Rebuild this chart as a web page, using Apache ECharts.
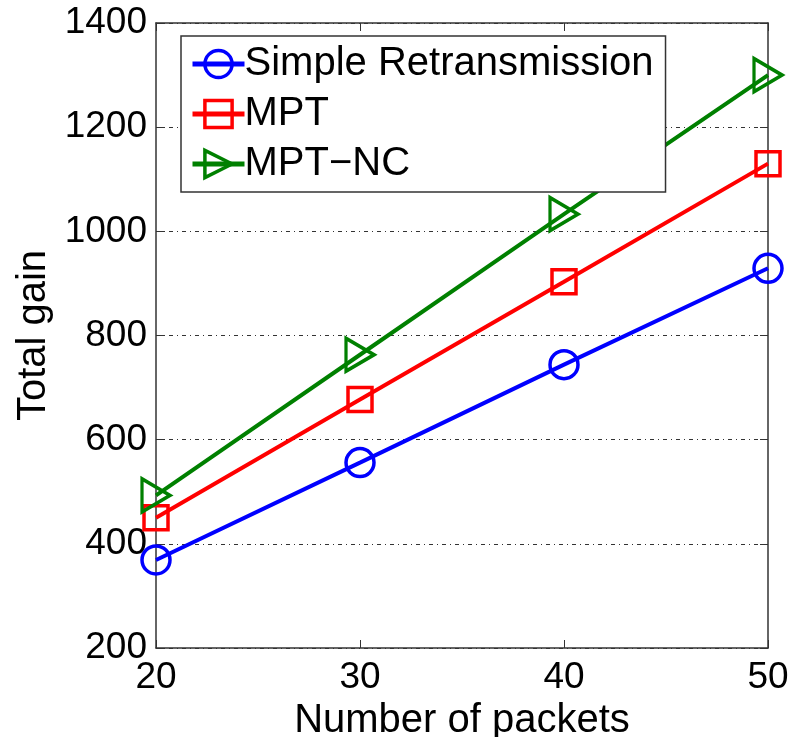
<!DOCTYPE html>
<html>
<head>
<meta charset="utf-8">
<script src="https://cdn.jsdelivr.net/npm/echarts@6/dist/echarts.min.js"></script>
<style>html,body{margin:0;padding:0;background:#fff}#c{width:792px;height:737px}</style>
</head>
<body>
<div id="c"></div>
<script>
const packets = [20, 30, 40, 50];
const simpleRetx = [369, 556, 744, 929];
const mpt = [450, 677, 903, 1130];
const mptNc = [493, 763, 1033, 1300];
const seriesNames = ['Simple Retransmission', 'MPT', 'MPT\u2212NC'];
const xTicks = [20, 30, 40, 50];
const yTicks = [200, 400, 600, 800, 1000, 1200, 1400];

const FONT = 'Liberation Sans';
const chart = echarts.init(document.getElementById('c'), null, {renderer: 'canvas'});
const pairs = v => packets.map((p, i) => [p, v[i]]);

function mk(name, data, color, symbol, size, rotate) {
  return {
    name, type: 'line', data: pairs(data),
    symbol, symbolSize: size, symbolRotate: rotate || 0,
    lineStyle: {color, width: 4},
    itemStyle: {color: 'rgba(0,0,0,0)', borderColor: color, borderWidth: 3.5},
    emphasis: {disabled: true},
    z: 3, animation: false
  };
}

chart.setOption({
  animation: false,
  backgroundColor: '#fff',
  grid: {left: 156, right: 24, top: 23, bottom: 89, containLabel: false, outerBoundsMode: 'none'},
  legend: {
    orient: 'vertical', left: 181, top: 36,
    padding: [8, 12, 8, 9], itemGap: 10,
    backgroundColor: '#fff', borderColor: '#333', borderWidth: 1.5,
    itemWidth: 52, itemHeight: 34,
    lineStyle: {width: 5},
    itemStyle: {borderWidth: 3.5},
    textStyle: {fontFamily: FONT, fontSize: 40, color: '#000', padding: [0, 0, 0, -5], lineHeight: 40},
    data: seriesNames
  },
  xAxis: [{
    type: 'value', min: xTicks[0], max: xTicks[xTicks.length - 1], interval: 10,
    name: 'Number of packets', nameLocation: 'middle', nameGap: 46,
    nameTextStyle: {fontFamily: FONT, fontSize: 40, color: '#000'},
    axisLine: {show: true, lineStyle: {color: '#333', width: 1.5}},
    axisTick: {show: true, inside: true, length: 8, lineStyle: {color: '#333'}},
    axisLabel: {fontFamily: FONT, fontSize: 37, color: '#000', margin: 11, formatter: v => String(v)},
    splitLine: {show: false}
  }, {
    type: 'value', position: 'top', min: 20, max: 50, interval: 10,
    axisLine: {show: true, lineStyle: {color: '#333', width: 1.5}},
    axisTick: {show: true, inside: true, length: 8, lineStyle: {color: '#333'}},
    axisLabel: {show: false}, splitLine: {show: false}
  }],
  yAxis: [{
    type: 'value', min: yTicks[0], max: yTicks[yTicks.length - 1], interval: 200,
    name: 'Total gain', nameLocation: 'middle', nameGap: 96,
    nameTextStyle: {fontFamily: FONT, fontSize: 40, color: '#000'},
    axisLine: {show: true, lineStyle: {color: '#333', width: 1.5}},
    axisTick: {show: true, inside: true, length: 8, lineStyle: {color: '#333'}},
    axisLabel: {fontFamily: FONT, fontSize: 37, color: '#000', margin: 9, formatter: v => String(v)},
    splitLine: {show: true, lineStyle: {color: '#333', width: 1, type: [4, 4, 1, 4]}}
  }, {
    type: 'value', position: 'right', min: 200, max: 1400, interval: 200,
    axisLine: {show: true, lineStyle: {color: '#333', width: 1.5}},
    axisTick: {show: true, inside: true, length: 8, lineStyle: {color: '#333'}},
    axisLabel: {show: false}, splitLine: {show: false}
  }],
  series: [
    mk(seriesNames[0], simpleRetx, '#0000ff', 'circle', 28),
    mk(seriesNames[1], mpt, '#ff0000', 'rect', 24),
    mk(seriesNames[2], mptNc, '#008000', 'triangle', [33, 28], -90)
  ]
});
</script>
</body>
</html>
